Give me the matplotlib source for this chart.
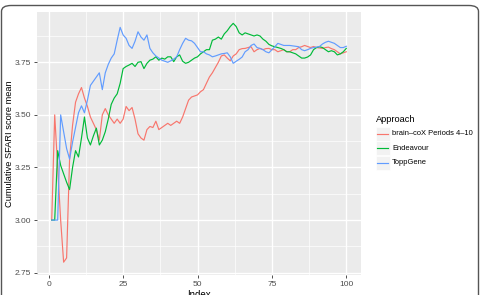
import matplotlib
matplotlib.use("Agg")
import matplotlib.pyplot as plt
from matplotlib.patches import FancyBboxPatch, Rectangle
from matplotlib.lines import Line2D
import numpy as np

plt.rcParams['font.family'] = ['Liberation Sans', 'DejaVu Sans']

# data
index = np.arange(1, 101)
brain_cox = [3.00, 3.50, 3.25, 3.00, 2.80, 2.82, 3.29, 3.45, 3.56, 3.60,
             3.63, 3.58, 3.54, 3.49, 3.46, 3.43, 3.38, 3.50, 3.53, 3.50,
             3.48, 3.46, 3.48, 3.46, 3.48, 3.54, 3.52, 3.535, 3.48, 3.41,
             3.39, 3.38, 3.43, 3.445, 3.44, 3.47, 3.43, 3.44, 3.45, 3.46,
             3.45, 3.46, 3.47, 3.46, 3.49, 3.53, 3.57, 3.585, 3.59, 3.595,
             3.61, 3.62, 3.65, 3.68, 3.70, 3.725, 3.75, 3.78, 3.785, 3.77,
             3.757, 3.78, 3.79, 3.81, 3.815, 3.816, 3.82, 3.824, 3.80, 3.81,
             3.816, 3.81, 3.815, 3.816, 3.81, 3.81, 3.80, 3.805, 3.81, 3.80,
             3.80, 3.81, 3.81, 3.82, 3.824, 3.83, 3.825, 3.82, 3.825, 3.82,
             3.818, 3.816, 3.82, 3.822, 3.815, 3.81, 3.80, 3.79, 3.795, 3.80]
endeavour = [3.00, 3.00, 3.33, 3.26, 3.22, 3.18, 3.145, 3.25, 3.33, 3.30,
             3.39, 3.49, 3.39, 3.357, 3.40, 3.437, 3.357, 3.38, 3.42, 3.48,
             3.55, 3.58, 3.60, 3.65, 3.72, 3.73, 3.737, 3.745, 3.73, 3.75,
             3.753, 3.72, 3.745, 3.76, 3.765, 3.776, 3.76, 3.77, 3.765, 3.776,
             3.776, 3.753, 3.776, 3.785, 3.755, 3.745, 3.75, 3.76, 3.77, 3.776,
             3.79, 3.80, 3.81, 3.81, 3.855, 3.86, 3.87, 3.86, 3.885, 3.90,
             3.92, 3.935, 3.92, 3.89, 3.88, 3.89, 3.885, 3.88, 3.875, 3.88,
             3.875, 3.86, 3.85, 3.835, 3.828, 3.824, 3.82, 3.816, 3.81, 3.80,
             3.80, 3.795, 3.79, 3.78, 3.77, 3.77, 3.775, 3.785, 3.81, 3.82,
             3.824, 3.82, 3.81, 3.80, 3.805, 3.80, 3.785, 3.79, 3.80, 3.816]
toppgene = [3.00, 3.00, 3.00, 3.50, 3.42, 3.34, 3.29, 3.37, 3.44, 3.51,
            3.543, 3.51, 3.57, 3.64, 3.66, 3.68, 3.70, 3.62, 3.70, 3.74,
            3.77, 3.79, 3.855, 3.916, 3.88, 3.864, 3.83, 3.816, 3.85, 3.895,
            3.87, 3.855, 3.88, 3.816, 3.795, 3.78, 3.77, 3.76, 3.755, 3.75,
            3.757, 3.765, 3.776, 3.81, 3.84, 3.864, 3.855, 3.852, 3.84, 3.82,
            3.80, 3.80, 3.79, 3.785, 3.776, 3.78, 3.785, 3.79, 3.792, 3.795,
            3.776, 3.745, 3.755, 3.764, 3.775, 3.80, 3.81, 3.83, 3.837, 3.82,
            3.816, 3.81, 3.80, 3.795, 3.81, 3.824, 3.84, 3.835, 3.83, 3.83,
            3.83, 3.828, 3.826, 3.824, 3.81, 3.805, 3.81, 3.816, 3.82, 3.822,
            3.825, 3.837, 3.845, 3.85, 3.845, 3.84, 3.83, 3.82, 3.82, 3.826]

labels = ['brain\u2013coX Periods 4\u201310', 'Endeavour', 'ToppGene']
colors = ['#F8766D', '#00BA38', '#619CFF']
xticks = [0, 25, 50, 75, 100]
yticks = [2.75, 3.00, 3.25, 3.50, 3.75]

W, H = 481, 295
fig = plt.figure(figsize=(W / 100, H / 100), dpi=100)

# rounded frame around the whole picture
frame = FancyBboxPatch((1.5 / W, -0.1), (W - 4) / W, (H - 5.5) / H + 0.1,
                       boxstyle="round,pad=0,rounding_size=0.02",
                       transform=fig.transFigure, fill=False,
                       edgecolor='#555555', linewidth=1.0)
fig.patches.append(frame)

# panel in pixel coords
pl, pr, pt, pb = 37, 361, 12, 275
ax = fig.add_axes([pl / W, (H - pb) / H, (pr - pl) / W, (pb - pt) / H])
ax.set_facecolor('#EBEBEB')
for s in ax.spines.values():
    s.set_visible(False)

ax.set_xlim(-3.95, 104.95)
ax.set_ylim(2.739, 3.989)
ax.set_xticks(xticks)
ax.set_xticklabels([str(t) for t in xticks])
ax.set_yticks(yticks)
ax.set_yticklabels(['%.2f' % t for t in yticks])
ax.set_xticks([12.5, 37.5, 62.5, 87.5], minor=True)
ax.set_yticks([2.875, 3.125, 3.375, 3.625, 3.875], minor=True)
ax.grid(which='major', color='white', linewidth=1.0)
ax.grid(which='minor', color='white', linewidth=0.5)
ax.set_axisbelow(True)
ax.tick_params(which='major', length=2.5, width=0.6, color='#333333',
               labelsize=6, labelcolor='#4D4D4D', pad=1.5)
ax.tick_params(which='minor', length=0)

for vals, c in zip([brain_cox, endeavour, toppgene], colors):
    ax.plot(index, vals, color=c, linewidth=0.85)

ax.set_xlabel('Index', fontsize=7, labelpad=2)
ax.set_ylabel('Cumulative SFARI score mean', fontsize=6.7, labelpad=1)

# legend (ggplot style)
fig.text(376 / W, 1 - 120 / H, 'Approach', fontsize=6.7, va='center', ha='left')
for k, (lab, c) in enumerate(zip(labels, colors)):
    yc = 134 + 14.3 * k
    fig.patches.append(Rectangle((376 / W, 1 - (yc + 7) / H), 14 / W, 14 / H,
                                 transform=fig.transFigure, facecolor='#F2F2F2',
                                 edgecolor='white', linewidth=0.5))
    fig.lines.append(Line2D([377.5 / W, 388.5 / W], [1 - yc / H, 1 - yc / H],
                            transform=fig.transFigure, color=c, linewidth=0.85))
    fig.text(392 / W, 1 - yc / H, lab, fontsize=5.4, va='center', ha='left')

fig.savefig('out.png', dpi=100)
